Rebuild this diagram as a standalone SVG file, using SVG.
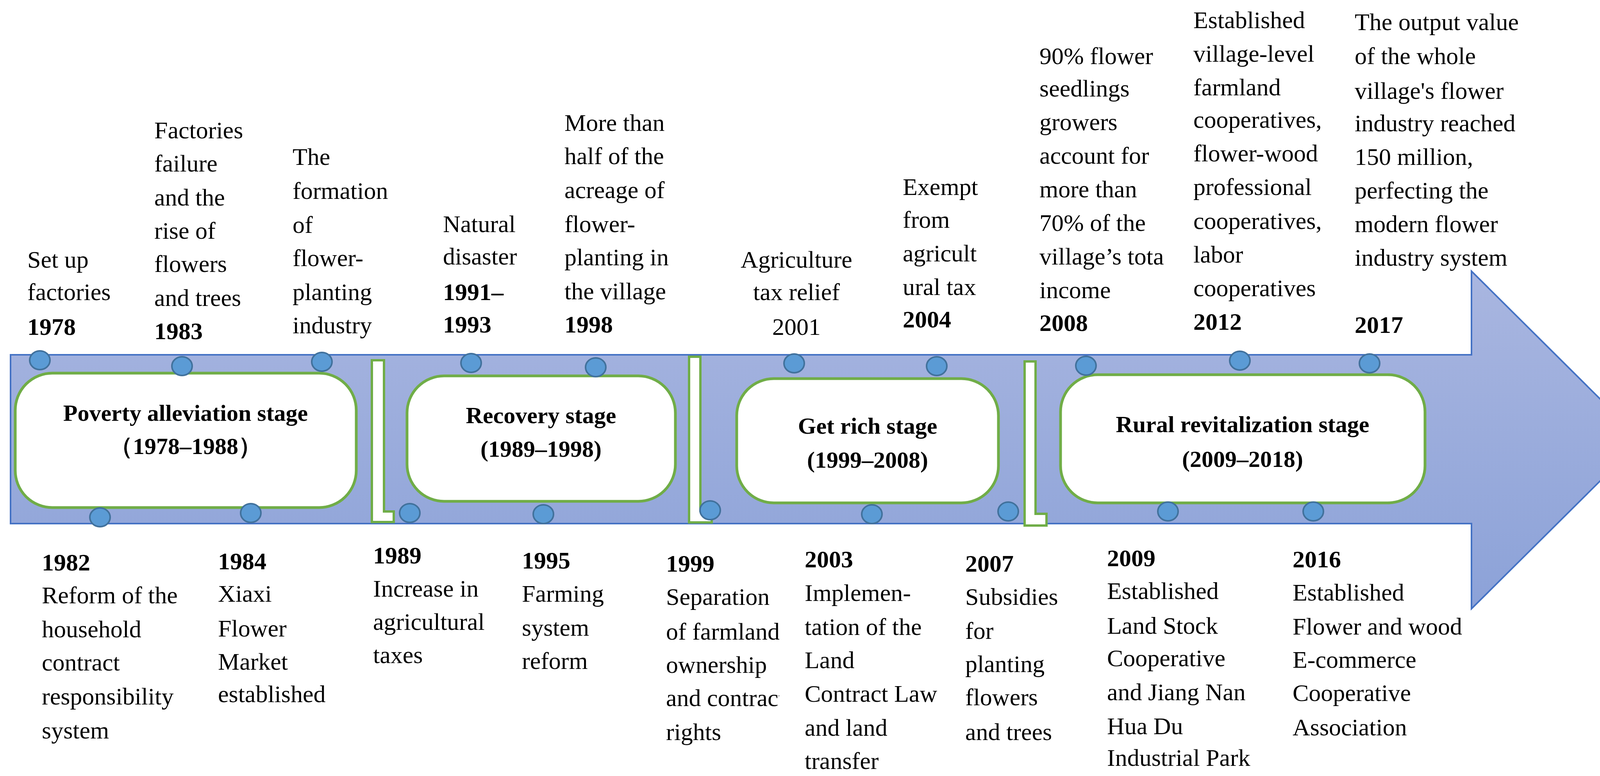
<svg xmlns="http://www.w3.org/2000/svg" width="4216" height="1986" viewBox="0 0 4216 1986">
<style>
.t{font-family:"Liberation Serif","Times New Roman",serif;font-size:62px;fill:#000}
.b{font-weight:bold}
.st{font-family:"Liberation Serif","Times New Roman",serif;font-size:60px;font-weight:bold;fill:#000;text-anchor:middle}
.box{fill:#fff;stroke:#70AD47;stroke-width:7}
.sep{fill:#fff;stroke:#70AD47;stroke-width:6}
.dot{fill:#5B9BD5;stroke:#41719C;stroke-width:4}
</style>
<defs>
<linearGradient id="g" x1="0" y1="0" x2="0" y2="1">
<stop offset="0" stop-color="#A9B6E0"/><stop offset="1" stop-color="#8CA2D8"/>
</linearGradient>
<clipPath id="c1999"><rect x="1690" y="1380" width="305" height="600"/></clipPath>
<clipPath id="c2003"><rect x="2040" y="1380" width="365" height="600"/></clipPath>
</defs>
<g id="arrow"><path d="M27,908 H3767 V694 L4202,1126 L3767,1558 V1340 H27 Z" fill="url(#g)" stroke="#4472C4" stroke-width="4"/></g>
<g id="separators">
<path class="sep" d="M952,922 H983 V1309 H1008 V1336 H952 Z"/>
<path class="sep" d="M1764,913 H1793 V1307 H1822 V1337 H1764 Z"/>
<path class="sep" d="M2623,925 H2651 V1315 H2679 V1345 H2623 Z"/>
</g>
<g id="stage1"><rect class="box" x="39" y="955" width="873" height="344" rx="95" ry="95"/><text class="st" x="475" y="1077">Poverty alleviation stage</text><text class="st" x="475" y="1162">（1978–1988）</text></g>
<g id="stage2"><rect class="box" x="1042" y="962" width="687" height="321" rx="95" ry="95"/><text class="st" x="1385" y="1083">Recovery stage</text><text class="st" x="1385" y="1169">(1989–1998)</text></g>
<g id="stage3"><rect class="box" x="1886" y="969" width="670" height="318" rx="95" ry="95"/><text class="st" x="2221" y="1110">Get rich stage</text><text class="st" x="2221" y="1197">(1999–2008)</text></g>
<g id="stage4"><rect class="box" x="2715" y="959" width="933" height="328" rx="95" ry="95"/><text class="st" x="3181" y="1106">Rural revitalization stage</text><text class="st" x="3181" y="1195">(2009–2018)</text></g>
<g id="connectors">
<ellipse class="dot" cx="102" cy="922" rx="26" ry="24"/><ellipse class="dot" cx="466" cy="937" rx="26" ry="24"/><ellipse class="dot" cx="824" cy="926" rx="26" ry="24"/><ellipse class="dot" cx="1206" cy="929" rx="26" ry="24"/><ellipse class="dot" cx="1525" cy="940" rx="26" ry="24"/><ellipse class="dot" cx="2033" cy="930" rx="26" ry="24"/><ellipse class="dot" cx="2398" cy="937" rx="26" ry="24"/><ellipse class="dot" cx="2780" cy="936" rx="26" ry="24"/><ellipse class="dot" cx="3174" cy="923" rx="26" ry="24"/><ellipse class="dot" cx="3506" cy="930" rx="26" ry="24"/>
<ellipse class="dot" cx="256" cy="1324" rx="26" ry="24"/><ellipse class="dot" cx="642" cy="1313" rx="26" ry="24"/><ellipse class="dot" cx="1049" cy="1313" rx="26" ry="24"/><ellipse class="dot" cx="1391" cy="1316" rx="26" ry="24"/><ellipse class="dot" cx="1818" cy="1306" rx="26" ry="24"/><ellipse class="dot" cx="2232" cy="1316" rx="26" ry="24"/><ellipse class="dot" cx="2581" cy="1309" rx="26" ry="24"/><ellipse class="dot" cx="2990" cy="1309" rx="26" ry="24"/><ellipse class="dot" cx="3362" cy="1309" rx="26" ry="24"/>
</g>
<g id="e1978"><text class="t" x="70" y="685">Set up</text><text class="t" x="70" y="768">factories</text><text class="t b" x="70" y="857">1978</text></g>
<g id="e1983"><text class="t" x="395"><tspan x="395" y="354">Factories</tspan><tspan x="395" y="439">failure</tspan><tspan x="395" y="526">and the</tspan><tspan x="395" y="611">rise of</tspan><tspan x="395" y="696">flowers</tspan><tspan x="395" y="783">and trees</tspan></text><text class="t b" x="395" y="868">1983</text></g>
<g id="eform"><text class="t"><tspan x="749" y="422">The</tspan><tspan x="749" y="509">formation</tspan><tspan x="749" y="596">of</tspan><tspan x="749" y="681">flower-</tspan><tspan x="749" y="768">planting</tspan><tspan x="749" y="853">industry</tspan></text></g>
<g id="e1991"><text class="t"><tspan x="1134" y="594">Natural</tspan><tspan x="1134" y="677">disaster</tspan></text><text class="t b"><tspan x="1134" y="768">1991–</tspan><tspan x="1134" y="851">1993</tspan></text></g>
<g id="e1998"><text class="t"><tspan x="1445" y="335">More than</tspan><tspan x="1445" y="420">half of the</tspan><tspan x="1445" y="507">acreage of</tspan><tspan x="1445" y="594">flower-</tspan><tspan x="1445" y="679">planting in</tspan><tspan x="1445" y="766">the village</tspan></text><text class="t b" x="1445" y="851">1998</text></g>
<g id="e2001"><text class="t" text-anchor="middle"><tspan x="2039" y="685">Agriculture</tspan><tspan x="2039" y="768">tax relief</tspan><tspan x="2039" y="857">2001</tspan></text></g>
<g id="e2004"><text class="t"><tspan x="2311" y="499">Exempt</tspan><tspan x="2311" y="583">from</tspan><tspan x="2311" y="669">agricult</tspan><tspan x="2311" y="755">ural tax</tspan></text><text class="t b" x="2311" y="838">2004</text></g>
<g id="e2008"><text class="t"><tspan x="2661" y="164">90% flower</tspan><tspan x="2661" y="247">seedlings</tspan><tspan x="2661" y="333">growers</tspan><tspan x="2661" y="419">account for</tspan><tspan x="2661" y="505">more than</tspan><tspan x="2661" y="591">70% of the</tspan><tspan x="2661" y="677">village’s tota</tspan><tspan x="2661" y="763">income</tspan></text><text class="t b" x="2661" y="847">2008</text></g>
<g id="e2012"><text class="t"><tspan x="3055" y="72">Established</tspan><tspan x="3055" y="158">village-level</tspan><tspan x="3055" y="244">farmland</tspan><tspan x="3055" y="327">cooperatives,</tspan><tspan x="3055" y="413">flower-wood</tspan><tspan x="3055" y="499">professional</tspan><tspan x="3055" y="586">cooperatives,</tspan><tspan x="3055" y="672">labor</tspan><tspan x="3055" y="758">cooperatives</tspan></text><text class="t b" x="3055" y="844">2012</text></g>
<g id="e2017"><text class="t"><tspan x="3468" y="77">The output value</tspan><tspan x="3468" y="164">of the whole</tspan><tspan x="3468" y="253">village's flower</tspan><tspan x="3468" y="336">industry reached</tspan><tspan x="3468" y="422">150 million,</tspan><tspan x="3468" y="508">perfecting the</tspan><tspan x="3468" y="594">modern flower</tspan><tspan x="3468" y="680">industry system</tspan></text><text class="t b" x="3468" y="852">2017</text></g>
<g id="e1982"><text class="t b" x="107" y="1460">1982</text><text class="t"><tspan x="107" y="1544">Reform of the</tspan><tspan x="107" y="1631">household</tspan><tspan x="107" y="1716">contract</tspan><tspan x="107" y="1803">responsibility</tspan><tspan x="107" y="1890">system</tspan></text></g>
<g id="e1984"><text class="t b" x="558" y="1457">1984</text><text class="t"><tspan x="558" y="1540">Xiaxi</tspan><tspan x="558" y="1629">Flower</tspan><tspan x="558" y="1714">Market</tspan><tspan x="558" y="1797">established</tspan></text></g>
<g id="e1989"><text class="t b" x="955" y="1442">1989</text><text class="t"><tspan x="955" y="1527">Increase in</tspan><tspan x="955" y="1612">agricultural</tspan><tspan x="955" y="1697">taxes</tspan></text></g>
<g id="e1995"><text class="t b" x="1336" y="1455">1995</text><text class="t"><tspan x="1336" y="1540">Farming</tspan><tspan x="1336" y="1627">system</tspan><tspan x="1336" y="1712">reform</tspan></text></g>
<g id="e1999" clip-path="url(#c1999)"><text class="t b" x="1705" y="1463">1999</text><text class="t"><tspan x="1705" y="1548">Separation</tspan><tspan x="1705" y="1637">of farmland</tspan><tspan x="1705" y="1722">ownership</tspan><tspan x="1705" y="1807">and contract</tspan><tspan x="1705" y="1894">rights</tspan></text></g>
<g id="e2003" clip-path="url(#c2003)"><text class="t b" x="2060" y="1452">2003</text><text class="t"><tspan x="2060" y="1538">Implemen-</tspan><tspan x="2060" y="1625">tation of the</tspan><tspan x="2060" y="1710">Land</tspan><tspan x="2060" y="1796">Contract Law</tspan><tspan x="2060" y="1883">and land</tspan><tspan x="2060" y="1968">transfer</tspan></text></g>
<g id="e2007"><text class="t b" x="2471" y="1463">2007</text><text class="t"><tspan x="2471" y="1548">Subsidies</tspan><tspan x="2471" y="1635">for</tspan><tspan x="2471" y="1720">planting</tspan><tspan x="2471" y="1805">flowers</tspan><tspan x="2471" y="1894">and trees</tspan></text></g>
<g id="e2009"><text class="t b" x="2834" y="1449">2009</text><text class="t"><tspan x="2834" y="1533">Established</tspan><tspan x="2834" y="1622">Land Stock</tspan><tspan x="2834" y="1705">Cooperative</tspan><tspan x="2834" y="1792">and Jiang Nan</tspan><tspan x="2834" y="1879">Hua Du</tspan><tspan x="2834" y="1960">Industrial Park</tspan></text></g>
<g id="e2016"><text class="t b" x="3309" y="1452">2016</text><text class="t"><tspan x="3309" y="1537">Established</tspan><tspan x="3309" y="1624">Flower and wood</tspan><tspan x="3309" y="1709">E-commerce</tspan><tspan x="3309" y="1794">Cooperative</tspan><tspan x="3309" y="1882">Association</tspan></text></g>
</svg>
